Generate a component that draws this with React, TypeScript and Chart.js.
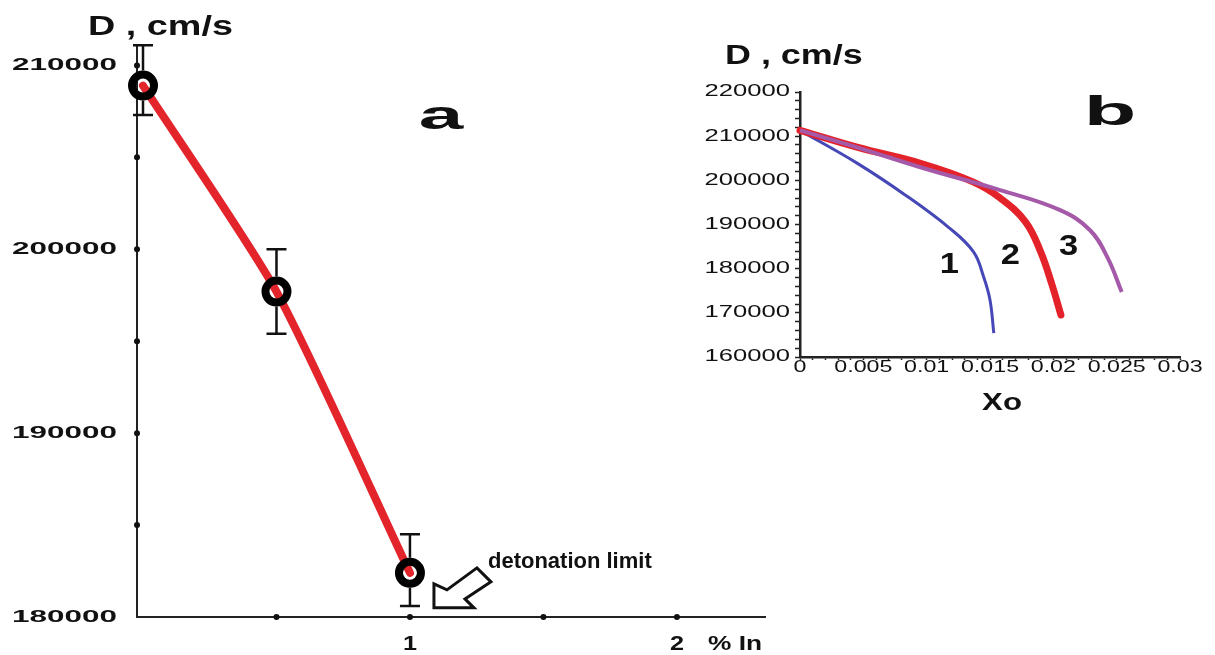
import React, { useEffect, useRef } from 'react';
import { Chart, registerables } from 'chart.js';

Chart.register(...registerables);

// ---------- Panel a: detonation velocity vs % In ----------
const inPercent = [0, 0.5, 1];
const detonationVelocity = [208900, 197700, 182400];
const errorLow = [207300, 195400, 180600];
const errorHigh = [211100, 200000, 184500];
const aYTickLabels = [180000, 190000, 200000, 210000];
const aYDotTicks = [185000, 190000, 195000, 200000, 205000, 210000];
const aXTickLabels = [1, 2];
const aXDotTicks = [0.5, 1, 1.5, 2];

// ---------- Panel b: D vs Xo, curves 1, 2, 3 ----------
const curve1X = [0, 0.0045, 0.0083, 0.0118, 0.0137, 0.0145, 0.015, 0.0153];
const curve1Y = [211300, 203900, 196700, 189200, 183800, 178100, 172900, 165400];
const curve2X = [0, 0.0045, 0.0097, 0.0137, 0.0158, 0.0178, 0.019, 0.0199, 0.0206];
const curve2Y = [211300, 207500, 203700, 199600, 196000, 190600, 183800, 176300, 169500];
const curve3X = [0, 0.0047, 0.0097, 0.0158, 0.0205, 0.0229, 0.0243, 0.0254];
const curve3Y = [211300, 207300, 202800, 197800, 193300, 188700, 182400, 174700];
const bYTickLabels = [160000, 170000, 180000, 190000, 200000, 210000, 220000];
const bXTickLabels = [0, 0.005, 0.01, 0.015, 0.02, 0.025, 0.03];
const curveNames = ['1', '2', '3'];
const curveNameX = [0.0118, 0.0166, 0.0212];
const curveNameY = [181000, 182900, 184900];

const FONT = '"Liberation Sans", Arial, sans-serif';

function sText(
  ctx: CanvasRenderingContext2D,
  text: string,
  x: number,
  y: number,
  size: number,
  weight: string,
  sx: number,
  align: 'left' | 'center' | 'right',
  baseline: CanvasTextBaseline = 'middle',
  color = '#111'
) {
  ctx.save();
  ctx.font = `${weight} ${size}px ${FONT}`;
  ctx.textBaseline = baseline;
  ctx.textAlign = 'left';
  ctx.fillStyle = color;
  const w = ctx.measureText(text).width * sx;
  const left = align === 'left' ? x : align === 'center' ? x - w / 2 : x - w;
  ctx.translate(left, y);
  ctx.scale(sx, 1);
  ctx.fillText(text, 0, 0);
  ctx.restore();
}

const RING = 15;

const panelAPlugin = {
  id: 'panelA',
  beforeDatasetsDraw(chart: any) {
    const { ctx } = chart;
    const x = chart.scales.x;
    const y = chart.scales.y;
    ctx.save();
    ctx.strokeStyle = '#111';
    ctx.lineWidth = 2.5;
    inPercent.forEach((v, i) => {
      const px = x.getPixelForValue(v);
      const pc = y.getPixelForValue(detonationVelocity[i]);
      const pt = y.getPixelForValue(errorHigh[i]);
      const pb = y.getPixelForValue(errorLow[i]);
      ctx.beginPath();
      ctx.moveTo(px, pt);
      ctx.lineTo(px, pc - RING);
      ctx.moveTo(px, pc + RING);
      ctx.lineTo(px, pb);
      ctx.moveTo(px - 10, pt);
      ctx.lineTo(px + 10, pt);
      ctx.moveTo(px - 10, pb);
      ctx.lineTo(px + 10, pb);
      ctx.stroke();
    });
    ctx.restore();
  },
  afterDraw(chart: any) {
    const { ctx, chartArea } = chart;
    const x = chart.scales.x;
    const y = chart.scales.y;
    // tick dots
    ctx.save();
    ctx.fillStyle = '#111';
    aYDotTicks.forEach((v) => {
      ctx.beginPath();
      ctx.arc(chartArea.left, y.getPixelForValue(v), 3, 0, Math.PI * 2);
      ctx.fill();
    });
    aXDotTicks.forEach((v) => {
      ctx.beginPath();
      ctx.arc(x.getPixelForValue(v), chartArea.bottom, 3, 0, Math.PI * 2);
      ctx.fill();
    });
    ctx.restore();
    // y labels
    aYTickLabels.forEach((v) => {
      sText(ctx, String(v), chartArea.left - 20, y.getPixelForValue(v), 17, 'bold', 1.85, 'right');
    });
    // x labels
    aXTickLabels.forEach((v) => {
      sText(ctx, String(v), x.getPixelForValue(v), chartArea.bottom + 27, 21, 'bold', 1.2, 'center');
    });
    sText(ctx, '% In', chartArea.right - 30, chartArea.bottom + 27, 21, 'bold', 1.25, 'center');
    // axis title
    sText(ctx, 'D , cm/s', 88, 27, 28, 'bold', 1.35, 'left');
    // panel letter
    sText(ctx, 'a', 441, 129, 40, 'bold', 2.0, 'center', 'alphabetic');
    // detonation limit arrow, anchored to last data point
    const last = inPercent.length - 1;
    const px = x.getPixelForValue(inPercent[last]);
    const py = y.getPixelForValue(detonationVelocity[last]);
    const arrow = [
      [24, 35],
      [24, 11],
      [37, 17],
      [67, -5],
      [81, 9],
      [55, 26],
      [64, 35],
    ];
    ctx.save();
    ctx.beginPath();
    arrow.forEach(([dx, dy], i) => {
      if (i === 0) ctx.moveTo(px + dx, py + dy);
      else ctx.lineTo(px + dx, py + dy);
    });
    ctx.closePath();
    ctx.fillStyle = '#fff';
    ctx.fill();
    ctx.lineWidth = 3;
    ctx.strokeStyle = '#111';
    ctx.stroke();
    ctx.restore();
    sText(ctx, 'detonation limit', px + 78, py - 11, 22, 'bold', 1.0, 'left');
  },
};

const panelBPlugin = {
  id: 'panelB',
  afterDraw(chart: any) {
    const { ctx, chartArea } = chart;
    const x = chart.scales.x;
    const y = chart.scales.y;
    bYTickLabels.forEach((v) => {
      sText(ctx, String(v), chartArea.left - 10, y.getPixelForValue(v), 16, 'normal', 1.6, 'right');
    });
    bXTickLabels.forEach((v) => {
      sText(ctx, String(v), x.getPixelForValue(v), chartArea.bottom + 11, 16, 'normal', 1.45, 'center');
    });
    sText(ctx, 'D , cm/s', 35, 27, 27, 'bold', 1.33, 'left');
    sText(ctx, 'b', 420, 95, 41, 'bold', 2.1, 'center', 'alphabetic');
    sText(ctx, 'Xo', (chartArea.left + chartArea.right) / 2 + 12, chartArea.bottom + 46, 24, 'bold', 1.3, 'center');
    curveNames.forEach((n, i) => {
      sText(ctx, n, x.getPixelForValue(curveNameX[i]), y.getPixelForValue(curveNameY[i]), 30, 'bold', 1.15, 'center');
    });
  },
};

function toPoints(xs: number[], ys: number[]) {
  return xs.map((v, i) => ({ x: v, y: ys[i] }));
}

export default function App() {
  const aRef = useRef<HTMLCanvasElement>(null);
  const bRef = useRef<HTMLCanvasElement>(null);

  useEffect(() => {
    const axisBorder = { color: '#222', width: 2 };
    const chartA = new Chart(aRef.current as HTMLCanvasElement, {
      type: 'line',
      data: {
        datasets: [
          {
            data: toPoints(inPercent, detonationVelocity),
            borderColor: '#e3242b',
            borderWidth: 8,
            borderCapStyle: 'round',
            tension: 0.22,
            fill: false,
            pointRadius: 11,
            pointBorderWidth: 8,
            pointBorderColor: '#000',
            pointBackgroundColor: 'rgba(0,0,0,0)',
            clip: false,
          } as any,
        ],
      },
      options: {
        responsive: false,
        animation: false,
        events: [],
        layout: { padding: { left: 0, top: 47, right: 450, bottom: 0 } },
        plugins: { legend: { display: false }, tooltip: { enabled: false } },
        scales: {
          x: {
            type: 'linear',
            min: -0.0225,
            max: 2.33,
            ticks: { display: false, stepSize: 0.5 },
            grid: { drawOnChartArea: false, drawTicks: false },
            border: axisBorder,
            afterFit: (s: any) => {
              s.height = 38;
            },
          },
          y: {
            type: 'linear',
            min: 180000,
            max: 211000,
            ticks: { display: false, stepSize: 5000 },
            grid: { drawOnChartArea: false, drawTicks: false },
            border: axisBorder,
            afterFit: (s: any) => {
              s.width = 137;
            },
          },
        },
      } as any,
      plugins: [panelAPlugin],
    });

    const chartB = new Chart(bRef.current as HTMLCanvasElement, {
      type: 'line',
      data: {
        datasets: [
          {
            data: toPoints(curve3X, curve3Y),
            borderColor: '#a45aa8',
            borderWidth: 4,
            tension: 0.4,
            pointRadius: 0,
            fill: false,
            clip: false,
          } as any,
          {
            data: toPoints(curve2X, curve2Y),
            borderColor: '#e3222a',
            borderWidth: 7,
            borderCapStyle: 'round',
            tension: 0.4,
            pointRadius: 0,
            fill: false,
            clip: false,
          } as any,
          {
            data: toPoints(curve1X, curve1Y),
            borderColor: '#4548b6',
            borderWidth: 3,
            tension: 0.4,
            pointRadius: 0,
            fill: false,
            clip: false,
          } as any,
        ],
      },
      options: {
        responsive: false,
        animation: false,
        events: [],
        layout: { padding: { left: 0, top: 62, right: 35, bottom: 0 } },
        plugins: { legend: { display: false }, tooltip: { enabled: false } },
        scales: {
          x: {
            type: 'linear',
            min: 0,
            max: 0.03,
            ticks: { display: false, stepSize: 0.001 },
            grid: { drawOnChartArea: false, drawTicks: true, tickLength: 3, color: '#222', tickWidth: 1.5 },
            border: { color: '#222', width: 2.5 },
            afterFit: (s: any) => {
              s.height = 73;
            },
          },
          y: {
            type: 'linear',
            min: 160000,
            max: 220000,
            ticks: { display: false, stepSize: 2000 },
            grid: { drawOnChartArea: false, drawTicks: true, tickLength: 5, color: '#222', tickWidth: 1.5 },
            border: { color: '#222', width: 2.5 },
            afterFit: (s: any) => {
              s.width = 110;
            },
          },
        },
      } as any,
      plugins: [panelBPlugin],
    });

    return () => {
      chartA.destroy();
      chartB.destroy();
    };
  }, []);

  return (
    <div style={{ position: 'absolute', left: 0, top: 0, width: 1215, height: 655, background: '#fff' }}>
      <canvas ref={aRef} width={1215} height={655} style={{ position: 'absolute', left: 0, top: 0 }} />
      <canvas ref={bRef} width={525} height={400} style={{ position: 'absolute', left: 690, top: 30 }} />
    </div>
  );
}
